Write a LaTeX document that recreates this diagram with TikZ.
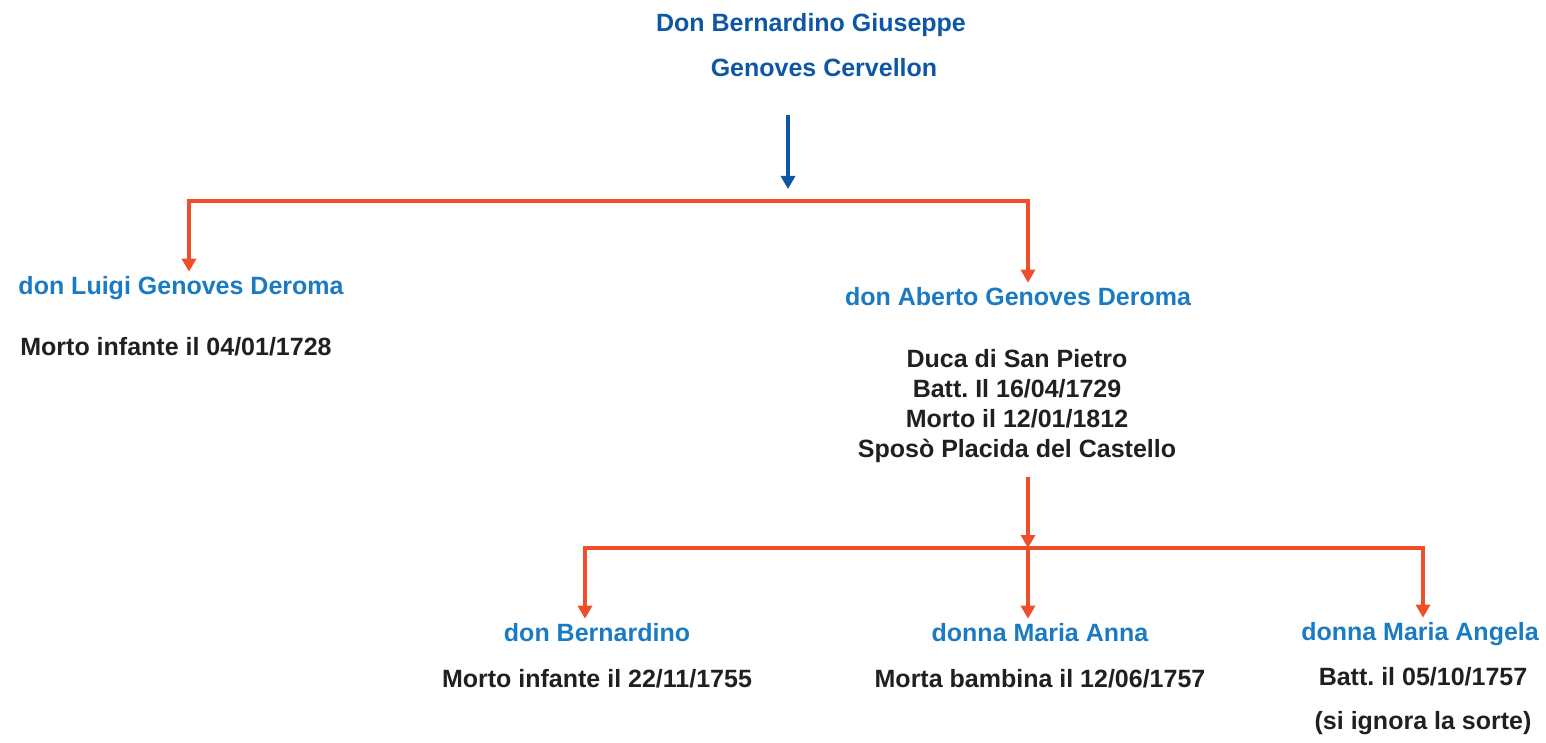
\documentclass[tikz,border=0pt]{standalone}
\usepackage{fontspec}
\setmainfont{Liberation Sans}
\usetikzlibrary{arrows.meta}
\definecolor{headblue}{HTML}{0D57A6}
\definecolor{nameblue}{HTML}{1B7BC2}
\definecolor{linered}{HTML}{F04E2A}
\definecolor{txtdark}{HTML}{231F20}
\frenchspacing

\begin{document}
\begin{tikzpicture}[x=1pt, y=-1pt, font=\fontsize{25}{30}\selectfont\bfseries,
    every node/.style={anchor=base, inner sep=4pt},
    headline/.style={text=headblue},
    person/.style={text=nameblue},
    detail/.style={text=txtdark, align=center},
    bar/.style={draw=linered, line width=4pt, line cap=rect},
    drop/.style={draw=linered, line width=4pt, -{Triangle[width=14pt,length=13pt]}},
    down/.style={draw=headblue, line width=4pt, -{Triangle[width=14pt,length=13pt]}}]
    \useasboundingbox (0,0) rectangle (1546,743);

    \node (don) [headline] at (811, 32) {Don Bernardino Giuseppe};
    \node (don2) [headline] at (824, 77) {Genoves Cervellon};

    \node (luigi) [person] at (181, 294) {don Luigi Genoves Deroma};
    \node (luigid) [detail] at (176, 355) {Morto infante il 04/01/1728};

    \node (aberto) [person] at (1018, 305) {don Aberto Genoves Deroma};
    \node (abertod) [detail, anchor=north] at (1017, 345) {Duca di San Pietro\\
        Batt. Il 16/04/1729\\Morto il 12/01/1812\\Sposò Placida del Castello};

    \node (bern) [person] at (597, 641) {don Bernardino};
    \node (bernd) [detail] at (597, 687) {Morto infante il 22/11/1755};
    \node (anna) [person] at (1040, 641) {donna Maria Anna};
    \node (annad) [detail] at (1040, 687) {Morta bambina il 12/06/1757};
    \node (angela) [person] at (1420, 640) {donna Maria Angela};
    \node (angelad) [detail] at (1423, 685) {Batt. il 05/10/1757};
    \node (angelas) [detail] at (1423, 729) {(si ignora la sorte)};

    \coordinate (t1) at (788, 115);
    \coordinate (t2) at (788, 189);
    \coordinate (b1l) at (189, 201);
    \coordinate (b1r) at (1028, 201);
    \coordinate (b2l) at (585, 548);
    \coordinate (b2m) at (1028, 548);
    \coordinate (b2r) at (1423, 548);

    \draw[down] (t1) -- (t2);
    \draw[bar] (b1l) -- (b1r);
    \draw[drop] (b1l) -- (b1l |- luigi.north);
    \draw[drop] (b1r) -- (b1r |- aberto.north);

    \draw[drop, shorten <=10pt] (b2m |- abertod.south) -- (b2m);
    \draw[bar] (b2l) -- (b2r);
    \draw[drop] (b2l) -- (b2l |- bern.north);
    \draw[drop] (b2m) -- (b2m |- anna.north);
    \draw[drop] (b2r) -- (b2r |- angela.north);
\end{tikzpicture}
\end{document}
